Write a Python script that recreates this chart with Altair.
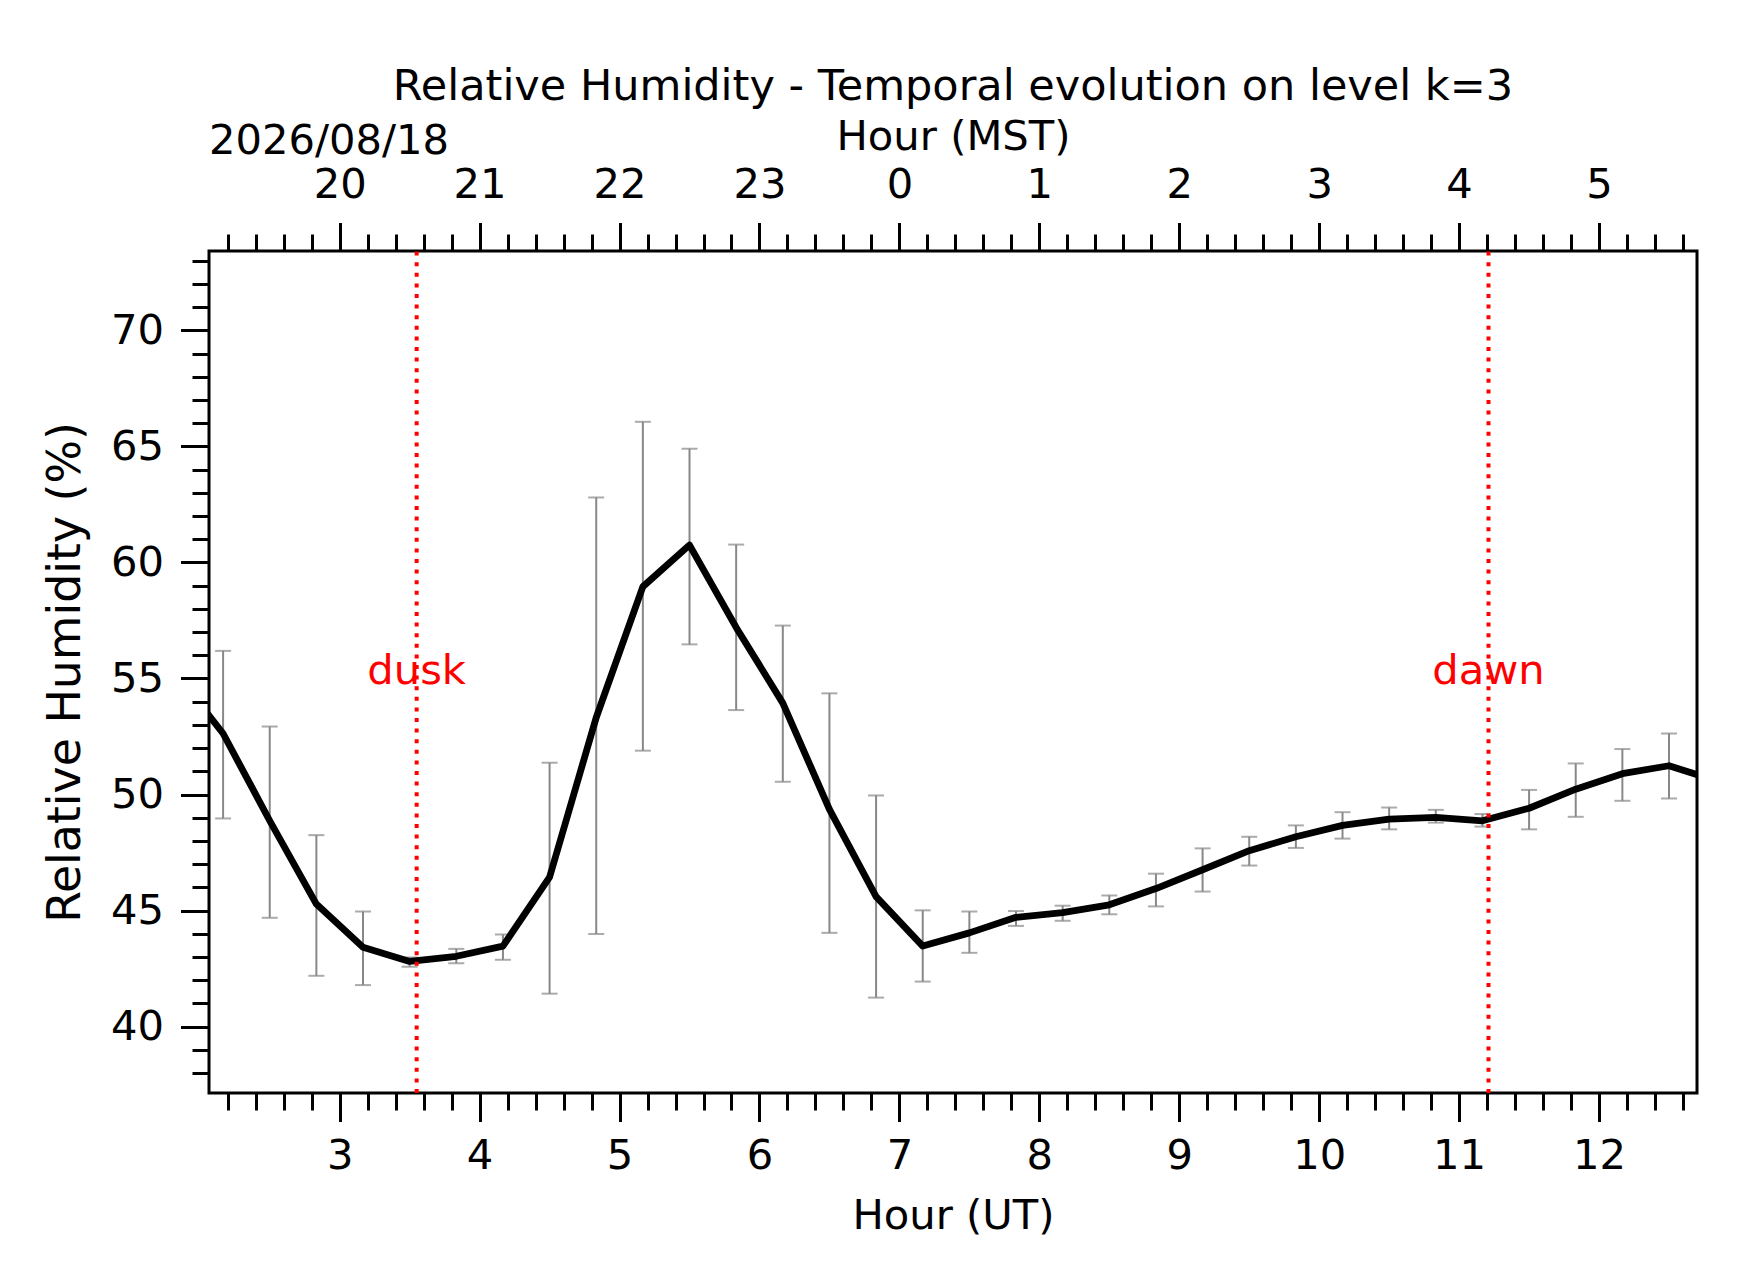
import altair as alt
import pandas as pd

# ---------------- data ----------------
hours = [1.8333, 2.1667, 2.5, 2.8333, 3.1667, 3.5, 3.8333, 4.1667, 4.5, 4.8333,
         5.1667, 5.5, 5.8333, 6.1667, 6.5, 6.8333, 7.1667, 7.5, 7.8333, 8.1667,
         8.5, 8.8333, 9.1667, 9.5, 9.8333, 10.1667, 10.5, 10.8333, 11.1667, 11.5,
         11.8333, 12.1667, 12.5, 12.8333]
rh_mean = [55.2, 52.63, 48.87, 45.28, 43.42, 42.81, 43.03, 43.47, 46.44, 53.32,
           58.96, 60.75, 57.2, 53.94, 49.36, 45.6, 43.47, 44.04, 44.71, 44.91,
           45.25, 45.95, 46.76, 47.58, 48.18, 48.67, 48.94, 49.02, 48.87, 49.41,
           50.23, 50.9, 51.24, 50.6]
# error bars (visible points only: hours[1:-1])
err_high = [56.19, 52.93, 48.25, 44.96, 42.98, 43.35, 43.97, 51.37, 62.8, 66.06,
            64.9, 60.77, 57.28, 54.36, 49.96, 45.01, 44.96, 44.98, 45.21, 45.65,
            46.59, 47.68, 48.18, 48.67, 49.24, 49.44, 49.34, 49.16, 50.2, 51.34,
            51.96, 52.63]
err_low = [48.97, 44.69, 42.19, 41.79, 42.58, 42.73, 42.88, 41.42, 43.99, 51.89,
           56.47, 53.64, 50.55, 44.04, 41.25, 41.94, 43.18, 44.34, 44.56, 44.84,
           45.18, 45.82, 46.94, 47.7, 48.1, 48.5, 48.79, 48.62, 48.5, 49.04,
           49.73, 49.83]
event_names = ["dusk", "dawn"]
event_hours = [3.55, 11.21]
event_label_y = 55
date_label = "2026/08/18"
utc_offset = -7  # MST

X_DOMAIN = [2.066, 12.70]
Y_DOMAIN = [37.14, 73.42]
x_tick_values = [round(2.2 + 0.2 * i, 1) for i in range(53)]
y_tick_values = list(range(38, 74))

# ---------------- tables ----------------
line_df = pd.DataFrame({"hour": hours, "rh": rh_mean})
err_df = pd.DataFrame({"hour": hours[1:-1], "lo": err_low, "hi": err_high})
ev_df = pd.DataFrame({"hour": event_hours, "name": event_names,
                      "ly": [event_label_y] * len(event_hours)})
date_df = pd.DataFrame({"t": [date_label]})

FONT = "DejaVu Sans"
FS = 41.67
GREY = "#888888"
W, H = 1488, 842

xscale = alt.Scale(domain=X_DOMAIN, nice=False, zero=False)
yscale = alt.Scale(domain=Y_DOMAIN, nice=False, zero=False)

is_int = "abs(datum.value - round(datum.value)) < 0.001"
tick_x = {"condition": {"test": is_int, "value": 28.5}, "value": 17}

common_axis = dict(
    values=x_tick_values, domain=False, grid=False, ticks=True,
    tickColor="black", tickWidth=3, tickSize=tick_x,
    labelFont=FONT, labelFontSize=FS, labelColor="black",
    labelOverlap=False, labelFlush=False, labelBound=False,
    titleFont=FONT, titleFontSize=FS, titleFontWeight="normal", titleColor="black",
    titleBaseline="alphabetic",
)

x_bottom = alt.Axis(
    orient="bottom", title="Hour (UT)",
    labelExpr=f"{is_int} ? '' + round(datum.value) : ''",
    labelPadding=14, titleY=135, **common_axis,
)
x_top = alt.Axis(
    orient="top", title="Hour (MST)",
    labelExpr=f"{is_int} ? '' + ((round(datum.value) + {24 + utc_offset}) % 24) : ''",
    labelPadding=16, titleY=-102, **common_axis,
)
y_left = alt.Axis(
    orient="left", title="Relative Humidity (%)", values=y_tick_values,
    domain=False, grid=False, tickColor="black", tickWidth=3,
    tickSize={"condition": {"test": "datum.value % 5 === 0", "value": 28.5}, "value": 17},
    labelExpr="datum.value % 5 === 0 ? '' + datum.value : ''",
    labelFont=FONT, labelFontSize=FS, labelColor="black", labelPadding=17,
    labelOverlap=False, labelFlush=False, labelBound=False,
    titleFont=FONT, titleFontSize=45.8, titleFontWeight="normal", titleColor="black",
    titleBaseline="alphabetic", titleX=-130,
)


def ypos(field, axis=None):
    return alt.Y(field, type="quantitative", scale=yscale, axis=axis)


base_err = alt.Chart(err_df)
err_rules = base_err.mark_rule(color=GREY, strokeWidth=2).encode(
    x=alt.X("hour:Q", scale=xscale, axis=None),
    y=ypos("lo"),
    y2="hi:Q",
)
cap_lo = base_err.mark_tick(color=GREY, orient="horizontal", size=16, thickness=2).encode(
    x=alt.X("hour:Q", scale=xscale, axis=None),
    y=ypos("lo"),
)
cap_hi = base_err.mark_tick(color=GREY, orient="horizontal", size=16, thickness=2).encode(
    x=alt.X("hour:Q", scale=xscale, axis=None),
    y=ypos("hi"),
)

line = alt.Chart(line_df).mark_line(color="black", strokeWidth=6.8, clip=True,
                                    strokeJoin="round").encode(
    x=alt.X("hour:Q", scale=xscale, axis=x_bottom),
    y=ypos("rh", y_left),
)

ev_rules = alt.Chart(ev_df).mark_rule(color="red", strokeWidth=4,
                                      strokeDash=[4, 6.6]).encode(
    x=alt.X("hour:Q", scale=xscale, axis=x_top),
    y=alt.Y(datum=Y_DOMAIN[0], type="quantitative", scale=yscale, axis=None),
    y2=alt.datum(Y_DOMAIN[1]),
)
ev_text = alt.Chart(ev_df).mark_text(color="red", font=FONT, fontSize=FS,
                                     align="center", baseline="alphabetic", dy=6).encode(
    x=alt.X("hour:Q", scale=xscale, axis=None),
    y=ypos("ly"),
    text="name:N",
)
date_text = alt.Chart(date_df).mark_text(color="black", font=FONT, fontSize=FS,
                                         align="left", baseline="alphabetic").encode(
    x=alt.X(datum=X_DOMAIN[0], type="quantitative", scale=xscale, axis=None),
    y=alt.value(-97),
    text="t:N",
)

chart = alt.layer(
    err_rules, cap_lo, cap_hi, line, ev_rules, ev_text, date_text
).resolve_axis(x="independent", y="independent").properties(
    width=W, height=H,
    background="white",
    autosize=alt.AutoSizeParams(type="none"),
    padding={"left": 201, "top": 243, "right": 37, "bottom": 181},
    title=alt.TitleParams(
        "Relative Humidity - Temporal evolution on level k=3",
        font=FONT, fontSize=43, fontWeight="normal", color="black",
        anchor="middle", frame="group", baseline="alphabetic", offset=15, dy=42,
    ),
).configure_view(stroke="black", strokeWidth=3)

chart.save("out.html", embed_options={"renderer": "svg", "actions": False})
